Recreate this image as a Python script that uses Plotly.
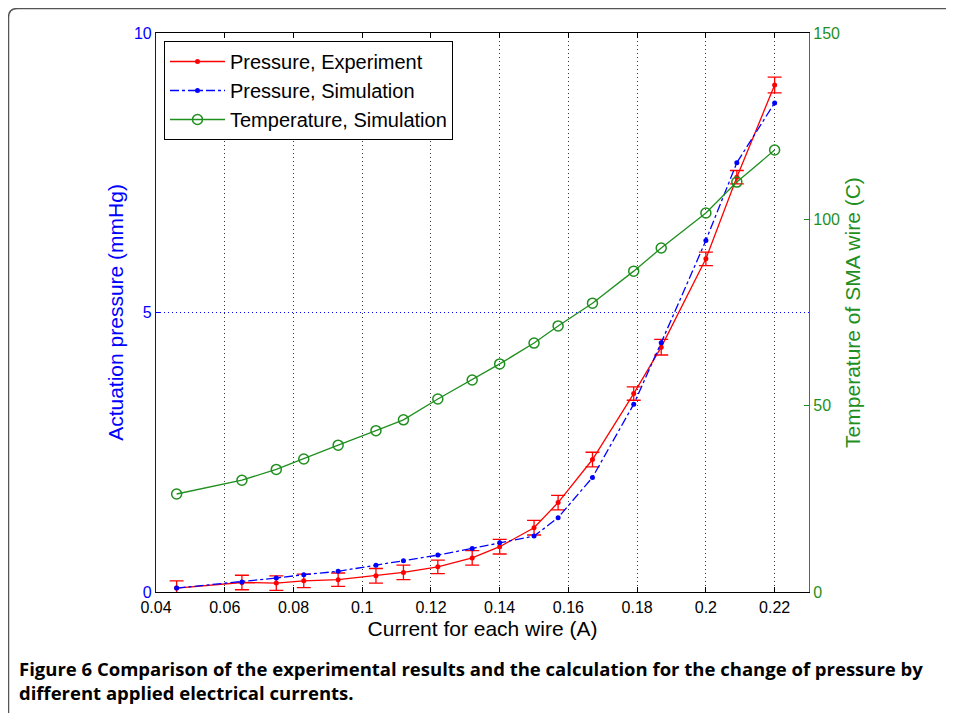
import plotly.graph_objects as go

current = [0.046, 0.065, 0.075, 0.083, 0.093, 0.104, 0.112, 0.122, 0.132, 0.140,
           0.150, 0.157, 0.167, 0.179, 0.187, 0.200, 0.209, 0.220]
pressure_exp = [0.07, 0.17, 0.16, 0.20, 0.22, 0.29, 0.35, 0.45, 0.61, 0.81,
                1.15, 1.60, 2.37, 3.55, 4.38, 5.96, 7.42, 9.07]
pressure_err = [0.13, 0.13, 0.13, 0.12, 0.12, 0.13, 0.13, 0.12, 0.13, 0.13,
                0.13, 0.13, 0.13, 0.12, 0.14, 0.12, 0.12, 0.14]
pressure_sim = [0.07, 0.18, 0.25, 0.31, 0.37, 0.48, 0.56, 0.66, 0.78, 0.88,
                1.00, 1.33, 2.05, 3.36, 4.46, 6.29, 7.68, 8.75]
temp_sim = [26.3, 30.0, 32.9, 35.7, 39.4, 43.3, 46.2, 51.8, 56.9, 61.2,
            66.8, 71.4, 77.5, 86.1, 92.3, 101.7, 110.0, 118.6]

x_ticks = [0.04, 0.06, 0.08, 0.1, 0.12, 0.14, 0.16, 0.18, 0.2, 0.22]
x_tick_text = ["0.04", "0.06", "0.08", "0.1", "0.12", "0.14", "0.16", "0.18", "0.2", "0.22"]
y_ticks = [0, 5, 10]
y2_ticks = [0, 50, 100, 150]

caption = ("Figure 6 Comparison of the experimental results and the calculation for the change of pressure by"
           "<br>different applied electrical currents.")

FONT = "Liberation Sans, Arial, sans-serif"
OFF = 8  # page body margin
W, H = 954 - OFF, 713 - OFF
# plot area in page pixels
PL, PR, PT, PB = 156, 809, 33, 592
L, R, T, B = PL - OFF, PR - OFF, PT - OFF, PB - OFF
pw, ph = R - L, B - T

def px(x):
    return (x - PL) / pw

def py(y):
    return (PB - y) / ph

GREEN = "#1f8f1f"

fig = go.Figure()
fig.add_trace(go.Scatter(
    x=current, y=pressure_exp, name="Pressure, Experiment", mode="lines+markers",
    line=dict(color="#ff0000", width=1.3),
    marker=dict(color="#ff0000", size=5, symbol="circle"),
    error_y=dict(type="data", array=pressure_err, visible=True, color="#ff0000",
                 thickness=1.3, width=7),
))
fig.add_trace(go.Scatter(
    x=current, y=pressure_sim, name="Pressure, Simulation", mode="lines+markers",
    line=dict(color="#0000ff", width=1.3, dash="dashdot"),
    marker=dict(color="#0000ff", size=5, symbol="circle"),
))
fig.add_trace(go.Scatter(
    x=current, y=temp_sim, name="Temperature, Simulation", mode="lines+markers",
    yaxis="y2",
    line=dict(color=GREEN, width=1.3),
    marker=dict(color=GREEN, size=10, symbol="circle-open", line=dict(width=1.5)),
))

# frame around the figure (top and left with rounded corner)
rx, ry = 9 / pw, 9 / ph
x0, yt, yb, xr = px(8.5), py(8.5), py(720), px(960)
frame = f"M {x0},{yb} L {x0},{yt - ry} Q {x0},{yt} {x0 + rx},{yt} L {xr},{yt}"

fig.update_layout(
    width=W, height=H,
    margin=dict(l=L, r=W - R, t=T, b=H - B),
    paper_bgcolor="white", plot_bgcolor="white",
    font=dict(family=FONT, size=14, color="black"),
    showlegend=True,
    legend=dict(x=px(164), y=py(41), xanchor="left", yanchor="top",
                bgcolor="white", bordercolor="black", borderwidth=1,
                font=dict(family=FONT, size=20, color="black"),
                itemwidth=55, tracegroupgap=0),
    xaxis=dict(range=[0.04, 0.23], tickvals=x_ticks, ticktext=x_tick_text,
               showline=True, linecolor="black", linewidth=1.2, mirror="ticks",
               ticks="inside", ticklen=5, tickcolor="black",
               showgrid=True, gridcolor="#333333", griddash="1px,3px", gridwidth=1,
               zeroline=False, ticklabelstandoff=1,
               tickfont=dict(family=FONT, size=16, color="black"),
               title=dict(text="Current for each wire (A)",
                          font=dict(family=FONT, size=21, color="black"), standoff=6)),
    yaxis=dict(range=[0, 10], tickvals=y_ticks,
               showline=True, linecolor="#0000ff", linewidth=1.2,
               ticks="inside", ticklen=5, tickcolor="#0000ff",
               showgrid=True, gridcolor="#0000ff", griddash="1px,3px", gridwidth=1,
               zeroline=False,
               tickfont=dict(family=FONT, size=16, color="#0000ff"),
               title=dict(text="Actuation pressure (mmHg)",
                          font=dict(family=FONT, size=21, color="#0000ff"), standoff=4)),
    yaxis2=dict(range=[0, 150], tickvals=y2_ticks, overlaying="y", side="right",
                showline=True, linecolor=GREEN, linewidth=1.2,
                ticks="inside", ticklen=5, tickcolor=GREEN,
                showgrid=False, zeroline=False,
                tickfont=dict(family=FONT, size=16, color=GREEN),
                title=dict(text="Temperature of SMA wire (C)",
                           font=dict(family=FONT, size=21, color=GREEN), standoff=6)),
    shapes=[dict(type="path", xref="paper", yref="paper", path=frame,
                 line=dict(color="#555555", width=1.5))],
    annotations=[dict(text="<b>" + caption + "</b>", xref="paper", yref="paper",
                      x=px(17), y=py(654), xanchor="left", yanchor="top",
                      align="left", showarrow=False,
                      font=dict(family="Open Sans, sans-serif", size=18.5, color="black"))],
)

fig.write_html("out.html")
